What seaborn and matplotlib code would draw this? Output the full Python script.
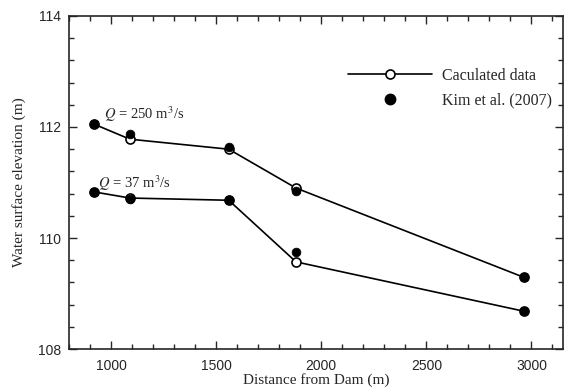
import matplotlib
matplotlib.use("Agg")
import matplotlib.pyplot as plt
import seaborn as sns
import pandas as pd
from matplotlib.lines import Line2D
from matplotlib.ticker import MultipleLocator

# Distance from dam (m)
distance = [920, 1090, 1560, 1880, 2965]

# Q = 250 m3/s
calc_250 = [112.05, 111.78, 111.60, 110.90, 109.29]
kim_250 = [112.05, 111.87, 111.64, 110.85, 109.29]

# Q = 37 m3/s
calc_37 = [110.83, 110.72, 110.68, 109.57, 108.68]
kim_37 = [110.83, 110.70, 110.69, 109.74, 108.68]

calc = pd.DataFrame({
    "Distance": distance * 2,
    "Elevation": calc_250 + calc_37,
    "Q": ["250"] * 5 + ["37"] * 5,
})
kim = pd.DataFrame({
    "Distance": distance * 2,
    "Elevation": kim_250 + kim_37,
})

sns.set_style("ticks")
plt.rcParams["font.family"] = ["Liberation Serif", "DejaVu Serif"]

fig = plt.figure(figsize=(5.73, 3.89), dpi=100)
ax = fig.add_axes([0.1204, 0.1028, 0.8621, 0.8561])

for q, grp in calc.groupby("Q"):
    sns.lineplot(data=grp, x="Distance", y="Elevation", ax=ax, color="black",
                 linewidth=1.2, marker="o", markersize=6.5, markerfacecolor="white",
                 markeredgecolor="black", markeredgewidth=1.2, legend=False)

sns.scatterplot(data=kim, x="Distance", y="Elevation", ax=ax, color="black",
                s=40, edgecolor="black", linewidth=0.5, legend=False, zorder=5)

ax.set_xlim(800, 3150)
ax.set_ylim(108, 114)
ax.xaxis.set_major_locator(MultipleLocator(500))
ax.xaxis.set_minor_locator(MultipleLocator(100))
ax.yaxis.set_major_locator(MultipleLocator(2))
ax.yaxis.set_minor_locator(MultipleLocator(0.4))
ax.tick_params(which="both", direction="in", top=True, right=True, width=1.0)
ax.tick_params(which="major", length=6)
ax.tick_params(which="minor", length=3.5)
ax.tick_params(axis="x", which="major", pad=7)
ax.tick_params(axis="y", which="major", pad=6)
for lbl in ax.get_xticklabels() + ax.get_yticklabels():
    lbl.set_family(["Liberation Sans", "DejaVu Sans"])
    lbl.set_fontsize(10)
for s in ax.spines.values():
    s.set_linewidth(1.2)

ax.set_xlabel("Distance from Dam (m)", fontsize=11, labelpad=0)
ax.set_ylabel("Water surface elevation (m)", fontsize=11, labelpad=8)

ax.text(965, 112.06, r"$Q$ = 250 m$^3$/s", fontsize=10.5, va="bottom",
        math_fontfamily="stix")
ax.text(940, 110.81, r"$Q$ = 37 m$^3$/s", fontsize=10.5, va="bottom",
        math_fontfamily="stix")

handles = [
    Line2D([], [], color="black", linewidth=1.2, marker="o", markersize=6.5,
           markerfacecolor="white", markeredgewidth=1.2),
    Line2D([], [], color="black", linestyle="none", marker="o", markersize=7.5),
]
ax.legend(handles, ["Caculated data", "Kim et al. (2007)"], loc="upper left",
          bbox_to_anchor=(0.535, 0.888), frameon=False, fontsize=11.5,
          handlelength=5.3, handletextpad=0.6, labelspacing=0.55)

fig.savefig("out.png", dpi=100)
